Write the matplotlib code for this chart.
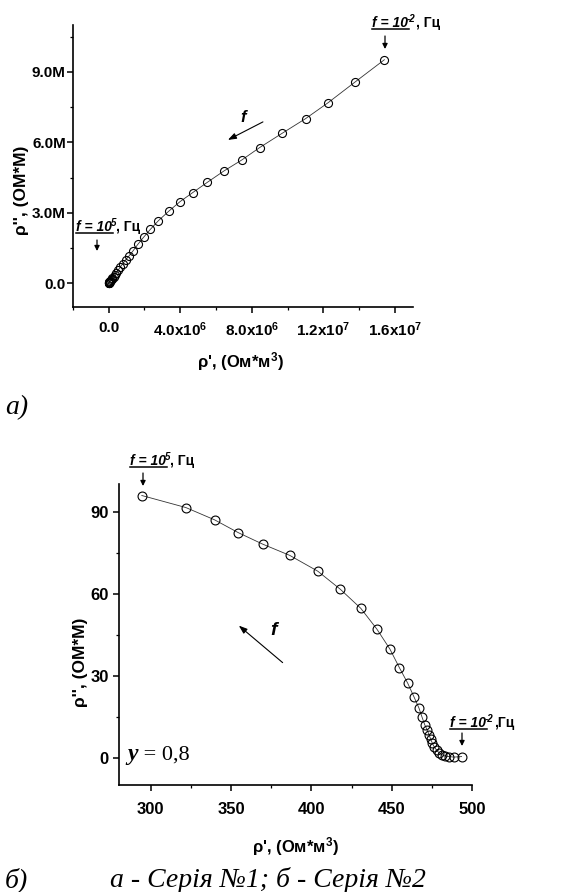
import numpy as np
import matplotlib
matplotlib.use("Agg")
import matplotlib.pyplot as plt
from matplotlib.ticker import FixedLocator, MultipleLocator, FixedFormatter
from matplotlib.lines import Line2D

plt.rcParams["font.family"] = ["Liberation Sans", "DejaVu Sans"]
plt.rcParams["mathtext.fontset"] = "custom"
plt.rcParams["mathtext.rm"] = "Liberation Sans:bold"
plt.rcParams["mathtext.it"] = "Liberation Sans:bold:italic"
plt.rcParams["mathtext.bf"] = "Liberation Sans:bold"

# ── Data: series 1 (values in 1e6) ───────────────────────────
rho_re_1 = [0.00, 0.005, 0.01, 0.02, 0.03, 0.04, 0.06, 0.09, 0.13, 0.17, 0.22,
            0.28, 0.35, 0.43, 0.53, 0.65, 0.79, 0.95, 1.13, 1.37, 1.63, 1.96,
            2.33, 2.78, 3.35, 4.00, 4.70, 5.52, 6.44, 7.44, 8.44, 9.70, 11.00,
            12.26, 13.78, 15.40]
rho_im_1 = [0.00, 0.01, 0.02, 0.03, 0.04, 0.05, 0.07, 0.09, 0.12, 0.16, 0.21,
            0.27, 0.35, 0.44, 0.55, 0.68, 0.83, 0.99, 1.15, 1.38, 1.65, 1.96,
            2.29, 2.66, 3.06, 3.48, 3.86, 4.30, 4.78, 5.25, 5.78, 6.39, 7.01,
            7.69, 8.58, 9.52]

# ── Data: series 2 ───────────────────────────────────────────
rho_re_2 = [294.4, 321.8, 339.7, 354.5, 369.7, 386.5, 404.0, 418.0, 430.8,
            440.8, 448.9, 454.8, 460.0, 463.9, 467.0, 468.9, 470.6, 472.1,
            473.3, 474.3, 475.4, 476.4, 477.9, 479.5, 481.2, 483.3, 485.8,
            488.7, 493.5]
rho_im_2 = [95.9, 91.5, 87.0, 82.3, 78.1, 74.0, 68.2, 61.6, 54.6, 47.0, 39.7,
            32.9, 27.2, 22.2, 18.1, 14.8, 12.0, 10.1, 8.3, 6.7, 5.2, 4.0, 2.8,
            1.8, 1.1, 0.6, 0.4, 0.2, 0.4]

xticks_1 = [0, 4e6, 8e6, 12e6, 16e6]
xtick_labels_1 = ["0.0", r"4.0x10$^{6}$", r"8.0x10$^{6}$", r"1.2x10$^{7}$", r"1.6x10$^{7}$"]
yticks_1 = [0, 3e6, 6e6, 9e6]
ytick_labels_1 = ["0.0", "3.0M", "6.0M", "9.0M"]

xticks_2 = [300, 350, 400, 450, 500]
yticks_2 = [0, 30, 60, 90]

W, H = 587, 892
fig = plt.figure(figsize=(W / 100, H / 100), dpi=100)


def px_axes(l, r, t, b):
    return fig.add_axes([l / W, 1 - b / H, (r - l) / W, (b - t) / H])


def style_axes(ax, tick_fs):
    for s in ["top", "right"]:
        ax.spines[s].set_visible(False)
    for s in ["left", "bottom"]:
        ax.spines[s].set_linewidth(1.2)
    ax.tick_params(which="major", direction="out", length=4, width=1.1,
                   labelsize=tick_fs)
    ax.tick_params(which="minor", direction="out", length=2.5, width=0.9)
    for lab in ax.get_xticklabels() + ax.get_yticklabels():
        lab.set_fontweight("bold")


def freq_label(x, y, exp, tail, fs=10):
    # underlined bold-italic "f = 10" with superscript and ", Гц"
    t1 = fig.text(x / W, 1 - y / H, "f = 10", fontsize=fs, fontweight="bold",
                  style="italic")
    t2 = fig.text(0, 0, exp, fontsize=fs * 0.7, fontweight="bold", style="italic")
    t3 = fig.text(0, 0, tail, fontsize=fs, fontweight="bold")
    fig.canvas.draw()
    r = fig.canvas.get_renderer()
    b1 = t1.get_window_extent(r)
    t2.set_position(((b1.x1 - 1) / W, (b1.y0 + b1.height * 0.55) / H))
    fig.canvas.draw()
    b2 = t2.get_window_extent(r)
    t3.set_position(((b2.x1) / W, 1 - y / H))
    uy = (b1.y0 + 1) / H
    fig.add_artist(Line2D([b1.x0 / W, (b1.x1 + 1) / W], [uy, uy],
                          color="black", lw=1.1, transform=fig.transFigure))


def down_arrow(x, y0, y1):
    fig.add_artist(matplotlib.patches.FancyArrowPatch(
        (x / W, 1 - y0 / H), (x / W, 1 - y1 / H), transform=fig.transFigure,
        arrowstyle="-|>,head_length=3,head_width=1.5", lw=0.9, color="black",
        shrinkA=0, shrinkB=0))


# ── Panel a ──────────────────────────────────────────────────
ax1 = px_axes(72.7, 413, 25, 306.7)
ax1.plot(np.array(rho_re_1) * 1e6, np.array(rho_im_1) * 1e6, color="#333333",
         lw=0.6, marker="o", ms=5.8, mfc="none", mec="black", mew=0.8)
ax1.set_xlim(-2e6, 17e6)
ax1.set_ylim(-1e6, 11e6)
ax1.xaxis.set_major_locator(FixedLocator(xticks_1))
ax1.xaxis.set_major_formatter(FixedFormatter(xtick_labels_1))
ax1.xaxis.set_minor_locator(MultipleLocator(2e6))
ax1.yaxis.set_major_locator(FixedLocator(yticks_1))
ax1.yaxis.set_major_formatter(FixedFormatter(ytick_labels_1))
ax1.yaxis.set_minor_locator(MultipleLocator(1.5e6))
style_axes(ax1, 11)
ax1.tick_params(axis="x", pad=6)
ax1.tick_params(axis="y", pad=1)

fig.text(22 / W, 1 - 190 / H, "ρ'', (ОМ*М)", rotation=90, fontsize=12.5,
         fontweight="bold", ha="center", va="center")
fig.text(240 / W, 1 - 362 / H, r"ρ', (Ом*м$^{3}$)", fontsize=12,
         fontweight="bold", ha="center", va="center")

ax1.text(0.50, 0.673, "f", transform=ax1.transAxes, fontsize=12,
         fontweight="bold", style="italic", ha="center", va="center")
ax1.annotate("", xy=(0.456, 0.592), xytext=(0.559, 0.656),
             xycoords="axes fraction",
             arrowprops=dict(arrowstyle="-|>,head_length=0.5,head_width=0.18",
                             lw=0.8, color="black", shrinkA=0, shrinkB=0))

freq_label(372, 27, "-2", ", Гц")
down_arrow(385, 36, 49)
freq_label(76, 231, "5", ", Гц")
down_arrow(97, 240, 251)

fig.text(5 / W, 1 - 408 / H, "а)", fontsize=20, family="Liberation Serif",
         style="italic", va="center")

# ── Panel b ──────────────────────────────────────────────────
ax2 = px_axes(118.7, 472, 484.3, 785)
ax2.plot(rho_re_2, rho_im_2, color="#333333", lw=0.6, marker="o", ms=6.4,
         mfc="none", mec="black", mew=0.8)
ax2.set_xlim(280, 500)
ax2.set_ylim(-10, 100)
ax2.xaxis.set_major_locator(FixedLocator(xticks_2))
ax2.xaxis.set_minor_locator(MultipleLocator(25))
ax2.yaxis.set_major_locator(FixedLocator(yticks_2))
ax2.yaxis.set_minor_locator(MultipleLocator(15))
style_axes(ax2, 12)
ax2.tick_params(axis="x", pad=8)
ax2.tick_params(axis="y", pad=3)

fig.text(80 / W, 1 - 662 / H, "ρ'', (ОМ*М)", rotation=90, fontsize=12.5,
         fontweight="bold", ha="center", va="center")
fig.text(295 / W, 1 - 847 / H, r"ρ', (Ом*м$^{3}$)", fontsize=12,
         fontweight="bold", ha="center", va="center")

ax2.text(0.437, 0.515, "f", transform=ax2.transAxes, fontsize=14,
         fontweight="bold", style="italic", ha="center", va="center")
ax2.annotate("", xy=(0.340, 0.530), xytext=(0.464, 0.407),
             xycoords="axes fraction",
             arrowprops=dict(arrowstyle="-|>,head_length=0.5,head_width=0.18",
                             lw=0.8, color="black", shrinkA=0, shrinkB=0))

freq_label(130, 465, "5", ", Гц")
down_arrow(143, 473, 486)
freq_label(450, 727, "-2", ",Гц")
down_arrow(462, 733, 746)

ty = fig.text(127 / W, 1 - 760 / H, "y", fontsize=17, family="Liberation Serif",
              fontweight="bold", style="italic", va="baseline")
fig.text(0, 0, " = 0,8", fontsize=16, family="Liberation Serif")
fig.canvas.draw()
by = ty.get_window_extent(fig.canvas.get_renderer())
fig.texts[-1].set_position((by.x1 / W, 1 - 760 / H))
fig.texts[-1].set_va("baseline")

fig.text(5 / W, 1 - 880 / H, "б)", fontsize=20, family="Liberation Serif",
         style="italic", va="center")
fig.text(110 / W, 1 - 880 / H, "а - Серія №1; б - Серія №2", fontsize=20,
         family="Liberation Serif", style="italic", va="center")

fig.savefig("out.png", dpi=100)
